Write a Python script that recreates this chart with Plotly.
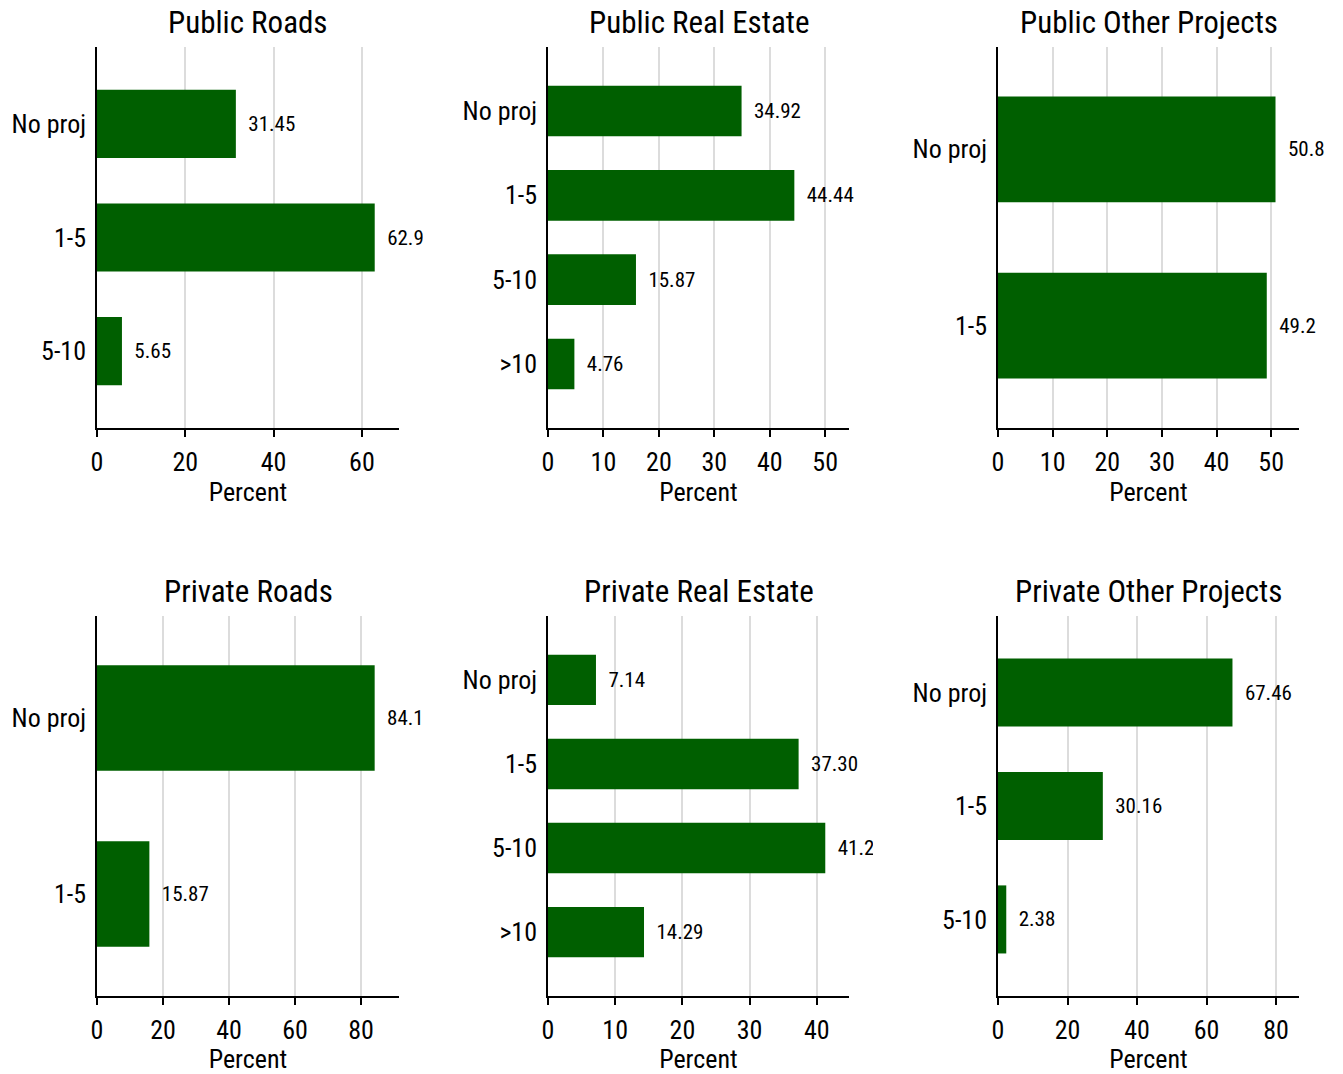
import plotly.graph_objects as go

# ---- data -------------------------------------------------------------
panel_titles = ["Public Roads", "Public Real Estate", "Public Other Projects",
                "Private Roads", "Private Real Estate", "Private Other Projects"]

pub_roads_cat = ["No proj", "1-5", "5-10"]
pub_roads_pct = [31.45, 62.90, 5.65]

pub_realestate_cat = ["No proj", "1-5", "5-10", ">10"]
pub_realestate_pct = [34.92, 44.44, 15.87, 4.76]

pub_other_cat = ["No proj", "1-5"]
pub_other_pct = [50.8, 49.2]

priv_roads_cat = ["No proj", "1-5"]
priv_roads_pct = [84.13, 15.87]

priv_realestate_cat = ["No proj", "1-5", "5-10", ">10"]
priv_realestate_pct = [7.14, 37.30, 41.27, 14.29]

priv_other_cat = ["No proj", "1-5", "5-10"]
priv_other_pct = [67.46, 30.16, 2.38]

x_ticks = [[0, 20, 40, 60], [0, 10, 20, 30, 40, 50], [0, 10, 20, 30, 40, 50],
           [0, 20, 40, 60, 80], [0, 10, 20, 30, 40], [0, 20, 40, 60, 80]]
x_max = [68.4, 54.3, 55.1, 91.5, 44.8, 86.6]
label_decimals = [2, 2, 1, 2, 2, 2]

panels = [
    (pub_roads_cat, pub_roads_pct),
    (pub_realestate_cat, pub_realestate_pct),
    (pub_other_cat, pub_other_pct),
    (priv_roads_cat, priv_roads_pct),
    (priv_realestate_cat, priv_realestate_pct),
    (priv_other_cat, priv_other_pct),
]

# ---- layout geometry (pixels) ------------------------------------------
W, H = 1343, 1074
col_px = [(97, 399), (548, 849), (998, 1299)]
row_px = [(47, 428), (616, 996)]
clip_px = [423, 873, None]          # right edge of each column's drawing region
pad_by_n = {2: 0.58, 3: 0.675, 4: 0.76}

FONT = "Liberation Sans Narrow, Arial Narrow, Roboto Condensed, sans-serif"
BAR = "#005f00"


def fx(p):
    return p / W


def fy(p):
    return 1 - p / H


fig = go.Figure()
layout = dict(
    width=W, height=H,
    margin=dict(l=0, r=0, t=0, b=0, pad=0, autoexpand=False),
    paper_bgcolor="white", plot_bgcolor="white",
    showlegend=False,
    font=dict(family=FONT, color="black", size=26),
    annotations=[], shapes=[],
)

for i, (cats, vals) in enumerate(panels):
    r, c = divmod(i, 3)
    k = "" if i == 0 else str(i + 1)
    x0, x1 = col_px[c]
    y0, y1 = row_px[r]
    pad = pad_by_n[len(cats)]
    d = label_decimals[i]

    fig.add_trace(go.Bar(
        x=vals, y=cats, orientation="h",
        xaxis="x" + k, yaxis="y" + k,
        marker=dict(color=BAR, line=dict(width=0)),
        width=0.6,
        text=["\u2002" + f"{v:.{d}f}" for v in vals],
        textposition="outside", cliponaxis=False, constraintext="none",
        textfont=dict(family=FONT, size=21, color="black"),
        hoverinfo="skip",
    ))

    layout["xaxis" + k] = dict(
        domain=[fx(x0), fx(x1)], anchor="y" + k, automargin=False,
        range=[0, x_max[i]], tickvals=x_ticks[i],
        showgrid=True, gridcolor="#dcdcdc", gridwidth=2,
        zeroline=False, showline=True, linecolor="black", linewidth=1.5,
        ticks="outside", ticklen=7, tickwidth=1.5, tickcolor="black",
        tickfont=dict(size=26), ticklabelstandoff=3,
        title=dict(text="Percent", font=dict(size=26), standoff=0),
        fixedrange=True,
    )
    layout["yaxis" + k] = dict(
        domain=[fy(y1), fy(y0)], anchor="x" + k, automargin=False,
        type="category", categoryorder="array", categoryarray=cats,
        range=[len(cats) - 1 + pad, -pad],
        showgrid=False, zeroline=False,
        showline=True, linecolor="black", linewidth=1.5,
        ticks="", tickfont=dict(size=26), ticklabelstandoff=4,
        fixedrange=True,
    )

    # panel title
    layout["annotations"].append(dict(
        text=panel_titles[i], xref="paper", yref="paper",
        x=fx((x0 + x1) / 2), y=fy(y0 - 25), xanchor="center", yanchor="middle",
        showarrow=False, font=dict(size=31, family=FONT, color="black"),
    ))

    # the drawing region of the first two columns ends a little right of the plot area
    if clip_px[c] is not None:
        layout["shapes"].append(dict(
            type="rect", xref="paper", yref="paper", layer="above",
            x0=fx(clip_px[c]), x1=fx(clip_px[c] + 30),
            y0=fy(y1 - 2), y1=fy(y0),
            fillcolor="white", line=dict(width=0),
        ))

fig.update_layout(**layout)
fig.write_html("out.html")
